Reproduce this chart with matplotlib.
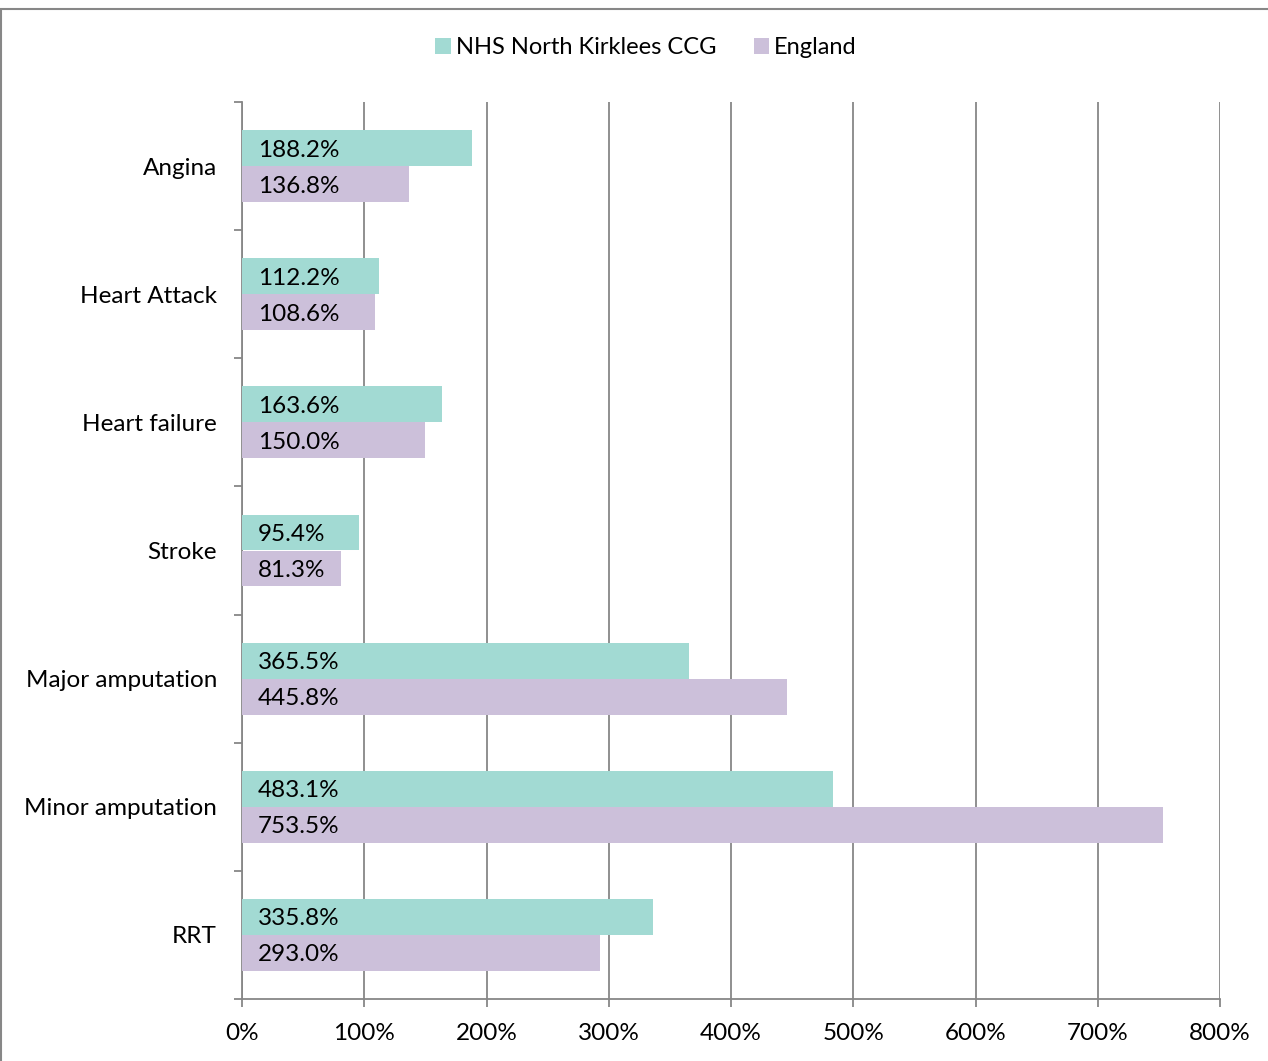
import numpy as np
import matplotlib.pyplot as plt
from matplotlib.patches import Rectangle
from matplotlib.ticker import FuncFormatter

categories = ['Angina', 'Heart Attack', 'Heart failure', 'Stroke',
              'Major amputation', 'Minor amputation', 'RRT']
kirklees = [188.2, 112.2, 163.6, 95.4, 365.5, 483.1, 335.8]
england = [136.8, 108.6, 150.0, 81.3, 445.8, 753.5, 293.0]

teal = '#A2DAD3'
lilac = '#CCC0DA'
grey = '#878787'

plt.rcParams['font.family'] = ['Lato', 'DejaVu Sans']
plt.rcParams['font.size'] = 17.5

fig = plt.figure(figsize=(12.68, 10.61), dpi=100)
ax = fig.add_axes([242 / 1268, 1 - 999 / 1061, 978 / 1268, 897 / 1061])

# outer chart frame (only left/top visible in crop)
fig.patches.append(Rectangle((1 / 1268, -0.05), 1.2, 1.05 - 9 / 1061,
                             transform=fig.transFigure, fill=False,
                             edgecolor=grey, linewidth=1.5))

y = np.arange(len(categories))
h = 0.28
off = 0.1406
b1 = ax.barh(y - off, kirklees, height=h, color=teal, label='NHS North Kirklees CCG', zorder=3)
b2 = ax.barh(y + off, england, height=h, color=lilac, label='England', zorder=3)

for i in range(len(categories)):
    ax.annotate(f'{kirklees[i]:.1f}%', xy=(0, y[i] - off), xytext=(11.5, 0),
                textcoords='offset points', va='center_baseline', ha='left', zorder=4)
    ax.annotate(f'{england[i]:.1f}%', xy=(0, y[i] + off), xytext=(11.5, 0),
                textcoords='offset points', va='center_baseline', ha='left', zorder=4)

ax.set_xlim(0, 800)
ax.set_ylim(len(categories) - 0.5, -0.5)
ax.set_xticks(np.arange(0, 801, 100))
ax.xaxis.set_major_formatter(FuncFormatter(lambda v, p: f'{v:.0f}%'))
ax.set_yticks(y)
ax.set_yticklabels(categories)
ax.set_yticks(np.arange(-0.5, len(categories)), minor=True)
ax.tick_params(axis='y', which='major', length=0, pad=18)
ax.tick_params(axis='y', which='minor', length=6, width=1.3, color=grey, direction='out')
ax.tick_params(axis='x', length=6, width=1.3, color=grey, pad=11)

ax.grid(axis='x', color=grey, linewidth=1.3, zorder=0)
ax.set_axisbelow(True)
for s in ['top', 'right']:
    ax.spines[s].set_visible(False)
for s in ['left', 'bottom']:
    ax.spines[s].set_color(grey)
    ax.spines[s].set_linewidth(1.3)

fig.legend(handles=[b1, b2], loc='center', bbox_to_anchor=(646 / 1268, 1 - 48 / 1061),
           ncol=2, frameon=False, handlelength=0.65, handleheight=0.65,
           handletextpad=0.2, columnspacing=1.6, fontsize=17)

fig.savefig('out.png', dpi=100)
